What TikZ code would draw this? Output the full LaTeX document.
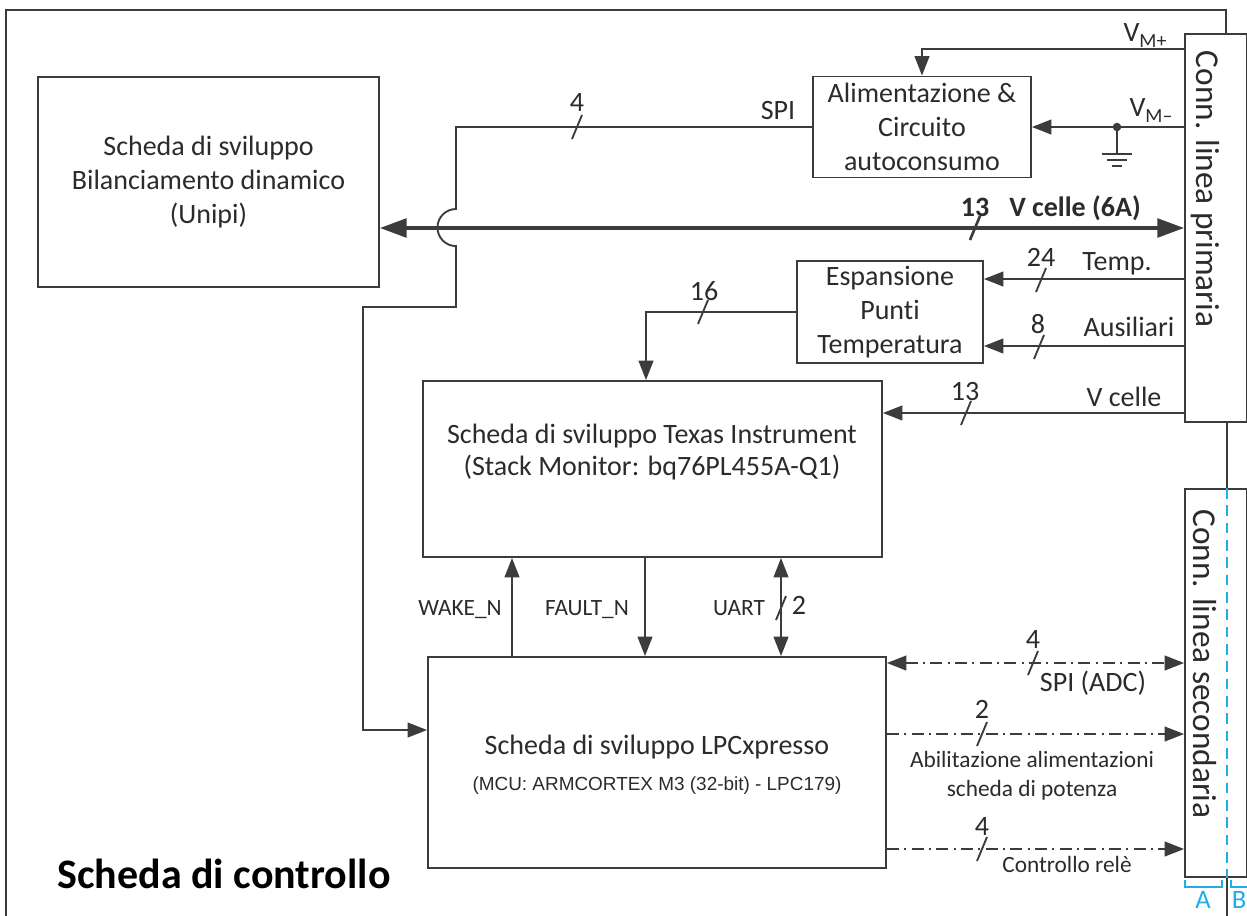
\documentclass[tikz,border=0pt]{standalone}
\usepackage{fontspec}
\setmainfont{Carlito}[Ligatures=NoCommon]
\newfontfamily\arialf{Liberation Sans}
\usetikzlibrary{arrows.meta}
\definecolor{ln}{HTML}{3C3C3C}
\definecolor{tx}{HTML}{2B2B2B}
\definecolor{bl}{HTML}{1FAEE8}
\newcommand\busmark[2]{\draw[wire] (#1,#2) ++(-5,12) -- ++(10,-24);}
\newcommand\mysub[1]{\raisebox{-0.22em}{\fontsize{15}{15}\selectfont #1}}
\tikzset{
 mainfont/.style={font=\fontsize{21}{25.5}\selectfont},
 box/.style={draw=ln, line width=1.4pt, fill=white, inner sep=0pt, text=tx, align=center, mainfont},
 dims/.style 2 args={minimum width=#1*0.75pt, minimum height=#2*0.75pt},
 lbl/.style={text=tx, inner sep=0pt, mainfont, text height=0.75em, text depth=0.15em, yshift=-3pt},
 sml/.style={text=tx, inner sep=0pt, font=\fontsize{17.5}{22.5}\selectfont, text height=0.75em, text depth=0.15em, yshift=-2.5pt},
 wire/.style={draw=ln, line width=1.4pt},
 tip/.tip={Triangle[length=14.5pt,width=11pt]},
 bigtip/.tip={Triangle[length=20pt,width=14pt]},
 arr/.style={wire, -tip},
 arrb/.style={wire, tip-tip},
 dd/.style={dash pattern=on 9pt off 4pt on 1.5pt off 4pt},
}
\begin{document}
\begin{tikzpicture}[x=0.75pt,y=-0.75pt]
\useasboundingbox (0,0) rectangle (1247,915);
% outer frame
\draw[wire] (1226,34) -- (1226,10) -- (6,10) -- (6,920);
\draw[wire] (1227,420) -- (1227,920);

% blocks
\node[box, dims={341}{210}] (unipi) at (208.5,182) {Scheda di sviluppo\\Bilanciamento dinamico\\(Unipi)};
\node[box, dims={218}{101}] (alim) at (922,127) {Alimentazione \&\\Circuito\\autoconsumo};
\node[box, dims={186}{102}] (esp) at (890,312) {Espansione\\Punti\\Temperatura};
\node[box, dims={459}{176}] (texas) at (652.5,469) {};
\node[box, dims={458}{211}] (lpc) at (657,762.5) {};
\node[box, dims={62}{388}] (connP) at (1216,228) {};
\node[box, dims={62}{388}] (connS) at (1216,683) {};

\node[lbl] (texasA) at (652,435) {Scheda di sviluppo Texas Instrument};
\node[lbl] (texasB) at (652,467) {(Stack Monitor: bq76PL455A-Q1)};
\node[lbl] (lpcA) at (657,746) {Scheda di sviluppo LPCxpresso};
\node[text=tx, inner sep=0pt, font=\arialf\fontsize{14.2}{17}\selectfont, yshift=-2.2pt] (lpcB) at (657,783) {(MCU: ARMCORTEX M3 (32-bit) - LPC179)};
\node[text=tx, inner sep=0pt, rotate=-90, font=\fontsize{25}{29}\selectfont] (connPt) at (1205,189) {Conn. linea primaria};
\node[text=tx, inner sep=0pt, rotate=-90, font=\fontsize{25}{29}\selectfont] (connSt) at (1205,664) {Conn. linea secondaria};

% blue A/B marks
\draw[bl, line width=1.1pt, dash pattern=on 8pt off 5pt] (connS.north -| 1227,0) -- (connS.south -| 1227,0);
\draw[bl, line width=1.2pt] (1185,880) -- (1185,887) -- (1222,887) -- (1222,880);
\draw[bl, line width=1.2pt] (1231,880) -- (1231,887) -- (1250,887);
\node[text=bl, inner sep=0pt, font=\fontsize{20}{22}\selectfont] (lA) at (1203,900) {A};
\node[text=bl, inner sep=0pt, font=\fontsize{20}{22}\selectfont] (lB) at (1239,900) {B};

% V_M+ and V_M-
\draw[arr] (connP.north west) ++(0,16) -| (alim.north);
\node[lbl] (vmp) at (1145,33) {V\mysub{M+}};
\coordinate (gnd) at (1117,127);
\draw[arr] (connP.west |- alim.east) -- (alim.east);
\fill[ln] (gnd) circle[radius=3.2pt];
\draw[wire] (gnd) -- (1117,154);
\draw[wire, line width=1.2pt] (1102,154) -- (1132,154) (1107,160) -- (1127,160) (1112,166) -- (1122,166);
\node[lbl] (vmm) at (1151,108) {V\mysub{M–}};

% SPI from alimentazione to LPC
\draw[arr] (alim.west) -- (456,127) -- (456,209) arc[start angle=90, end angle=270, radius=13.9pt] -- (456,307) -- (363,307) -- (363,730) -- (lpc.west |- 0,730);
\busmark{577}{127}
\node[lbl] (n4a) at (577,103) {4};
\node[lbl] (spi) at (778,111) {SPI};

% bold V celle
\draw[draw=ln, line width=2.6pt, bigtip-bigtip] (connP.west) -- (unipi.east |- connP.west);
\draw[draw=ln, line width=2pt] (975,228) ++(-5,12) -- ++(10,-24);
\node[lbl, font=\bfseries\fontsize{21}{25.5}\selectfont] (n13b) at (975,208) {13};
\node[lbl, font=\bfseries\fontsize{21}{25.5}\selectfont] (vcb) at (1075,208) {V celle (6A)};

% temperature inputs
\draw[arr] (connP.west |- 0,279) -- (esp.east |- 0,279);
\busmark{1041}{280}
\node[lbl] (n24) at (1041,258) {24};
\node[lbl] (temp) at (1117,262) {Temp.};
\draw[arr] (connP.west |- 0,346) -- (esp.east |- 0,346);
\busmark{1039}{347}
\node[lbl] (n8) at (1038,325) {8};
\node[lbl] (aus) at (1129,328) {Ausiliari};

% 16 to texas
\draw[arr] (esp.west) -| (texas.north -| 646,0);
\busmark{703}{312}
\node[lbl] (n16) at (704,292) {16};

% V celle 13
\draw[arr] (connP.west |- 0,413) -- (texas.east |- 0,413);
\busmark{966}{413}
\node[lbl] (n13) at (965,392) {13};
\node[lbl] (vc) at (1124,398) {V celle};

% texas <-> lpc
\draw[arr] (lpc.north -| 512,0) -- (texas.south -| 512,0);
\draw[arr] (texas.south -| 645,0) -- (lpc.north -| 645,0);
\draw[arrb] (texas.south -| 781,0) -- (lpc.north -| 781,0);
\busmark{781}{608}
\node[sml] (wake) at (460,608) {WAKE\_N};
\node[sml] (fault) at (587,608) {FAULT\_N};
\node[sml] (uart) at (739,608) {UART};
\node[lbl] (n2u) at (799,606) {2};

% secondary connections
\draw[arrb, dd] (lpc.east |- 0,663) -- (connS.west |- 0,663);
\busmark{1033}{663}
\node[lbl] (n4s) at (1033,640) {4};
\node[lbl] (spiadc) at (1093,683) {SPI (ADC)};
\draw[arr, dd] (lpc.east |- 0,734) -- (connS.west |- 0,734);
\busmark{982}{734}
\node[lbl] (n2) at (982,710) {2};
\node[sml] (abil) at (1032,760) {Abilitazione alimentazioni};
\node[sml] (pot) at (1032,789) {scheda di potenza};
\draw[arr, dd] (lpc.east |- 0,849) -- (connS.west |- 0,849);
\busmark{982}{849}
\node[lbl] (n4r) at (982,827) {4};
\node[sml] (rele) at (1067,865) {Controllo relè};

% title
\node[text=black, inner sep=0pt, font=\bfseries\fontsize{31.5}{36}\selectfont, text height=0.7em, text depth=0.2em] (title) at (224,885) {Scheda di controllo};
\end{tikzpicture}
\end{document}
